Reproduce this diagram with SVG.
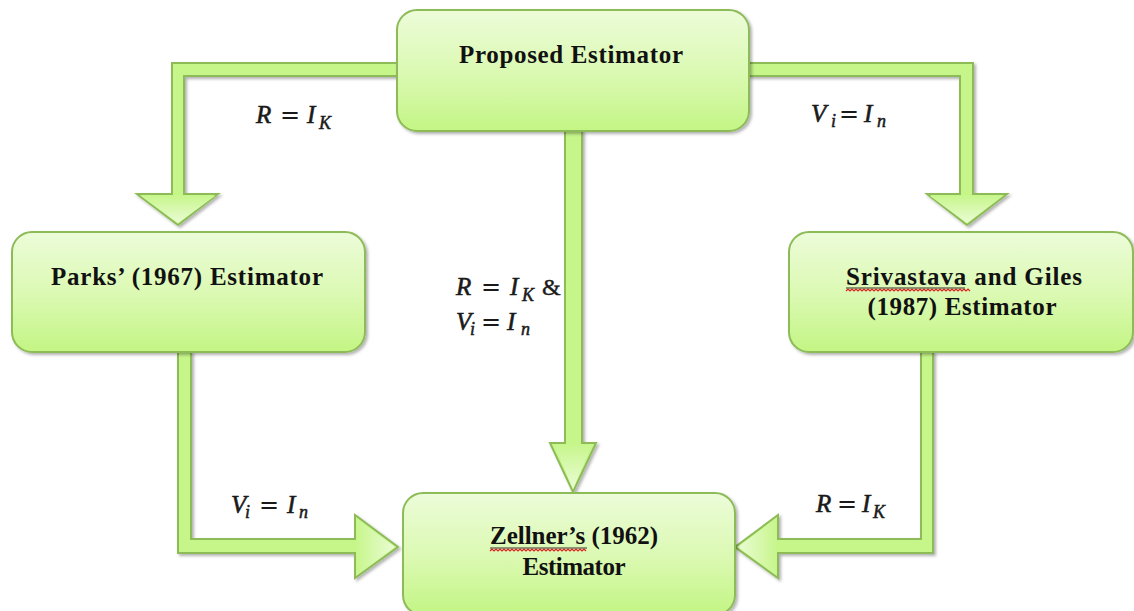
<svg xmlns="http://www.w3.org/2000/svg" width="1134" height="611" viewBox="0 0 1134 611">
<defs>
<linearGradient id="gBox" x1="0" y1="0" x2="0" y2="1">
<stop offset="0" stop-color="#ecfcd9"/>
<stop offset="0.55" stop-color="#daf9b0"/>
<stop offset="1" stop-color="#c3f584"/>
</linearGradient>
<linearGradient id="gHeadV" x1="0" y1="0" x2="0" y2="1">
<stop offset="0" stop-color="#c8f68e"/>
<stop offset="1" stop-color="#eafcd4"/>
</linearGradient>
<linearGradient id="gHeadR" x1="0" y1="0" x2="1" y2="0">
<stop offset="0" stop-color="#c8f68e"/>
<stop offset="1" stop-color="#eafcd4"/>
</linearGradient>
<linearGradient id="gHeadL" x1="1" y1="0" x2="0" y2="0">
<stop offset="0" stop-color="#c8f68e"/>
<stop offset="1" stop-color="#eafcd4"/>
</linearGradient>
<filter id="sh" x="-10%" y="-10%" width="125%" height="130%">
<feDropShadow dx="2" dy="2" stdDeviation="1.5" flood-color="#000" flood-opacity="0.3"/>
</filter>
</defs>
<style>
.box{fill:url(#gBox);stroke:#8dbb58;stroke-width:2;filter:url(#sh)}
.conn{fill:#c6f58a;stroke:#8dbb58;stroke-width:2;stroke-linejoin:miter;filter:url(#sh)}
.lbl{font-family:"Liberation Serif","Times New Roman",serif;font-weight:bold;font-size:25px;fill:#111;text-anchor:middle}
.m{font-family:"Liberation Serif","Times New Roman",serif;font-style:italic;font-size:25px;fill:#1a1a1a;stroke:#1a1a1a;stroke-width:0.6}
.s{font-family:"Liberation Serif","Times New Roman",serif;font-style:italic;font-size:18px;fill:#1a1a1a;stroke:#1a1a1a;stroke-width:0.5}
.eq{font-family:"DejaVu Serif",serif;font-size:24px;fill:#1a1a1a}
.amp{font-family:"Liberation Serif",serif;font-size:24px;fill:#1a1a1a;stroke:#1a1a1a;stroke-width:0.4}
.sq{fill:none;stroke:#e02020;stroke-width:1.2}
</style>
<g id="connectors">
<polygon class="conn" points="397,63 172,63 172,194 137,194 178,225 218,194 184,194 184,76 397,76"/>
<polygon points="141,196 215,196 178,223" fill="url(#gHeadV)"/>
<polygon class="conn" points="749,63 973,63 973,194 1007,194 967,225 927,194 960,194 960,76 749,76"/>
<polygon points="930,196 1003,196 967,223" fill="url(#gHeadV)"/>
<polygon class="conn" points="565,131 565,443 550,443 573,492 596,443 582,443 582,131"/>
<polygon points="554,445 592,445 573,489" fill="url(#gHeadV)"/>
<polygon class="conn" points="178,352 178,553 355,553 355,578 398,547 355,515 355,539 191,539 191,352"/>
<polygon points="357,519 357,575 395,547" fill="url(#gHeadR)"/>
<polygon class="conn" points="933,352 933,553 778,553 778,578 735,547 778,515 778,539 921,539 921,352"/>
<polygon points="776,519 776,575 738,547" fill="url(#gHeadL)"/>
</g>
<g id="proposed">
<rect class="box" x="397" y="10" width="352" height="121" rx="20"/>
<text class="lbl" x="571" y="63" textLength="224" lengthAdjust="spacing">Proposed Estimator</text>
</g>
<g id="parks">
<rect class="box" x="12" y="232" width="353" height="120" rx="20"/>
<text class="lbl" x="187" y="285" textLength="272" lengthAdjust="spacing">Parks’ (1967) Estimator</text>
</g>
<g id="srivastava">
<rect class="box" x="789" y="232" width="344" height="120" rx="20"/>
<text class="lbl" x="964" y="285" textLength="236" lengthAdjust="spacing">Srivastava and Giles</text>
<text class="lbl" x="962" y="315" textLength="189" lengthAdjust="spacing">(1987) Estimator</text>
<line x1="846" y1="288" x2="965" y2="288" stroke="#333" stroke-width="1"/>
<path class="sq" d="M846,291 l2,-2 l2,2 l2,-2 l2,2 l2,-2 l2,2 l2,-2 l2,2 l2,-2 l2,2 l2,-2 l2,2 l2,-2 l2,2 l2,-2 l2,2 l2,-2 l2,2 l2,-2 l2,2 l2,-2 l2,2 l2,-2 l2,2 l2,-2 l2,2 l2,-2 l2,2 l2,-2 l2,2 l2,-2 l2,2 l2,-2 l2,2 l2,-2 l2,2 l2,-2 l2,2 l2,-2 l2,2 l2,-2 l2,2 l2,-2 l2,2 l2,-2 l2,2 l2,-2 l2,2 l2,-2 l2,2 l2,-2 l2,2 l2,-2 l2,2 l2,-2 l2,2 l2,-2 l2,2 l2,-2 l2,2 l2,-2 l2,2"/>
</g>
<g id="zellner">
<rect class="box" x="403" y="493" width="332" height="122" rx="20"/>
<text class="lbl" x="574" y="544" textLength="168" lengthAdjust="spacing">Zellner’s (1962)</text>
<text class="lbl" x="574" y="575" textLength="103" lengthAdjust="spacing">Estimator</text>
<line x1="490" y1="548" x2="587" y2="548" stroke="#333" stroke-width="1"/>
<path class="sq" d="M490,551 l2,-2 l2,2 l2,-2 l2,2 l2,-2 l2,2 l2,-2 l2,2 l2,-2 l2,2 l2,-2 l2,2 l2,-2 l2,2 l2,-2 l2,2 l2,-2 l2,2 l2,-2 l2,2 l2,-2 l2,2 l2,-2 l2,2 l2,-2 l2,2 l2,-2 l2,2 l2,-2 l2,2 l2,-2 l2,2 l2,-2 l2,2 l2,-2 l2,2 l2,-2 l2,2 l2,-2 l2,2 l2,-2 l2,2 l2,-2 l2,2 l2,-2 l2,2 l2,-2 l2,2"/>
</g>
<g id="labels">
<text x="0" y="0"><tspan class="m" x="256" y="123">R</tspan><tspan class="eq" x="280" y="123">=</tspan><tspan class="m" x="307" y="123">I</tspan><tspan class="s" x="319" y="129">K</tspan></text>
<text x="0" y="0"><tspan class="m" x="811" y="122">V</tspan><tspan class="s" x="831" y="127">i</tspan><tspan class="eq" x="839" y="122">=</tspan><tspan class="m" x="864" y="122">I</tspan><tspan class="s" x="877" y="127">n</tspan></text>
<text x="0" y="0"><tspan class="m" x="456" y="295">R</tspan><tspan class="eq" x="481" y="295">=</tspan><tspan class="m" x="510" y="295">I</tspan><tspan class="s" x="522" y="301">K</tspan><tspan class="amp" x="542" y="295">&amp;</tspan></text>
<text x="0" y="0"><tspan class="m" x="456" y="330">V</tspan><tspan class="s" x="470" y="335">i</tspan><tspan class="eq" x="481" y="330">=</tspan><tspan class="m" x="507" y="330">I</tspan><tspan class="s" x="521" y="335">n</tspan></text>
<text x="0" y="0"><tspan class="m" x="231" y="513">V</tspan><tspan class="s" x="245" y="518">i</tspan><tspan class="eq" x="259" y="513">=</tspan><tspan class="m" x="287" y="513">I</tspan><tspan class="s" x="299" y="518">n</tspan></text>
<text x="0" y="0"><tspan class="m" x="816" y="512">R</tspan><tspan class="eq" x="837" y="512">=</tspan><tspan class="m" x="862" y="512">I</tspan><tspan class="s" x="873" y="518">K</tspan></text>
</g>
</svg>
